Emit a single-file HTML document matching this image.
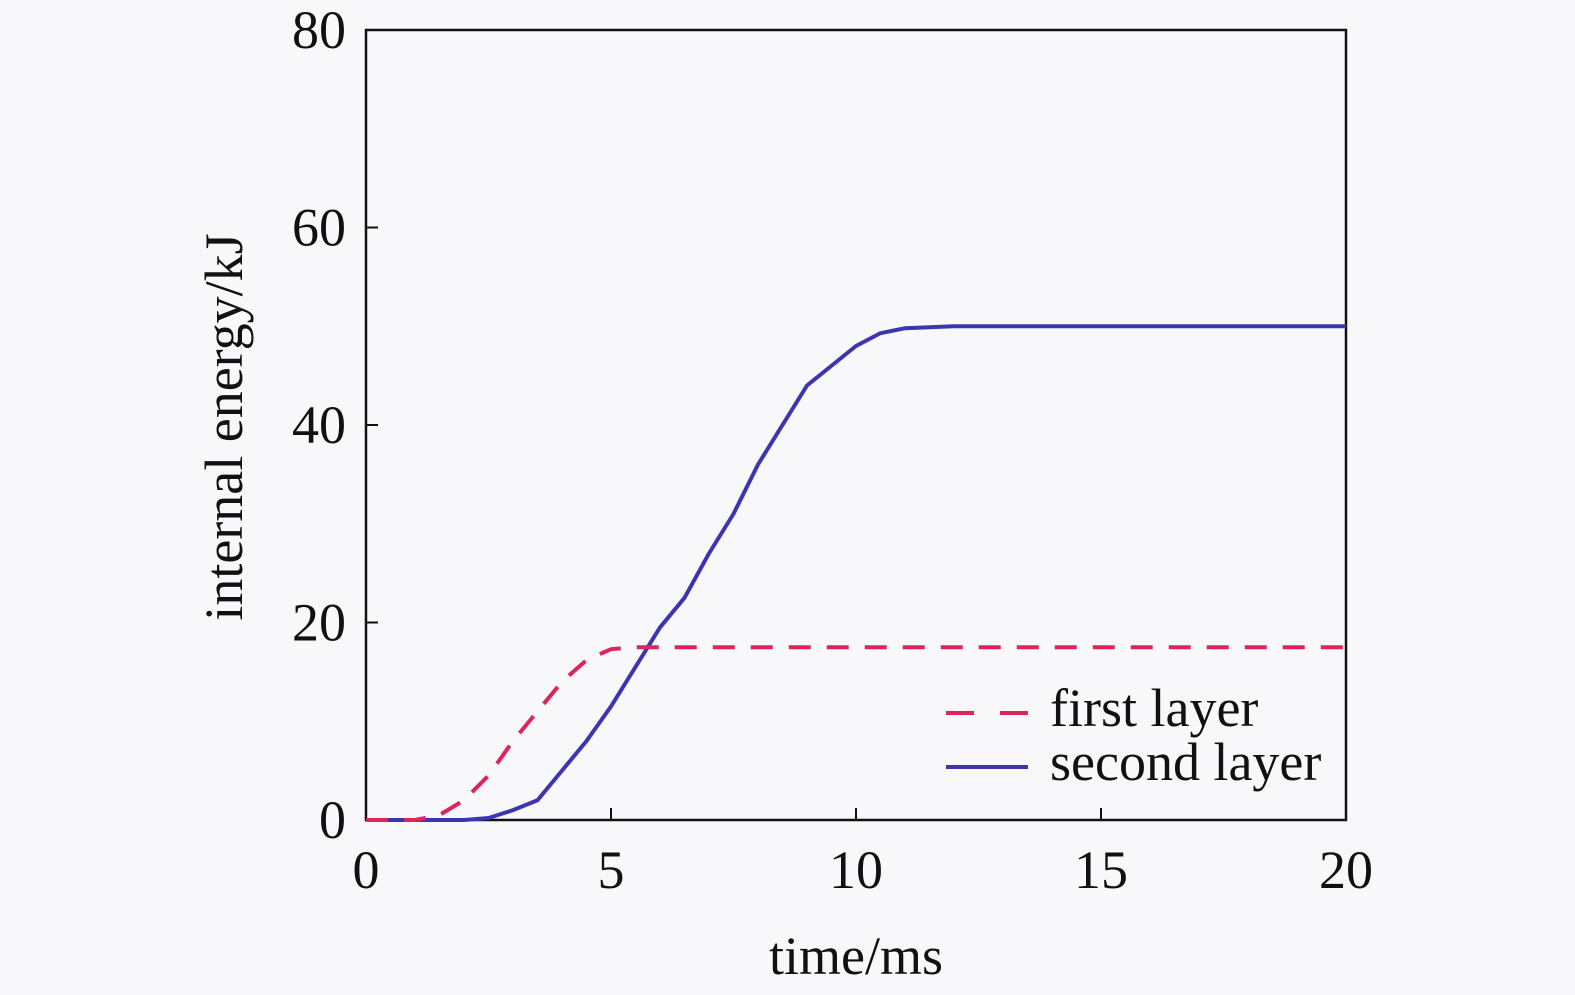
<!DOCTYPE html>
<html><head><meta charset="utf-8"><style>
body{margin:0;background:#f8f8fa;}
svg{display:block;font-family:"Liberation Serif",serif;}
</style></head><body>
<svg width="1575" height="995">
<rect x="0" y="0" width="1575" height="995" fill="#f8f8fa"/>
<g id="g"></g>
</svg>
<script>
const xTicks=[0,5,10,15,20];
const yTicks=[0,20,40,60,80];
const firstX=[0,1,1.5,2,2.5,3,3.5,4,4.5,5,5.5,20];
const firstY=[0,0,0.5,2,4.5,8,11,14,16.2,17.3,17.5,17.5];
const secondX=[0,2,2.5,3,3.5,4,4.5,5,5.5,6,6.5,7,7.5,8,8.5,9,9.5,10,10.5,11,12,20];
const secondY=[0,0,0.2,1,2,5,8,11.5,15.5,19.5,22.5,27,31,36,40,44,46,48,49.3,49.8,50,50];
const L=366,R=1346,T=30,B=820;
const sx=v=>L+(v-0)/20*(R-L), sy=v=>B-(v-0)/80*(B-T);
const g=document.getElementById('g'),NS='http://www.w3.org/2000/svg';
function mk(t,a,txt){const e=document.createElementNS(NS,t);for(const k in a)e.setAttribute(k,a[k]);if(txt!=null)e.textContent=txt;g.appendChild(e);return e;}
let e;
e=mk('rect',{x:L,y:T,width:R-L,height:B-T,fill:'none',stroke:'#111','stroke-width':2.5});


xTicks.forEach(v=>{
 e=mk('line',{x1:sx(v),x2:sx(v),y1:B,y2:B-12,stroke:'#111','stroke-width':2});
 
 
 e=mk('text',{x:sx(v),y:888,'text-anchor':'middle','font-size':54,fill:'#111'},v);
 
 
});
yTicks.forEach(v=>{
 e=mk('line',{x1:L,x2:L+12,y1:sy(v),y2:sy(v),stroke:'#111','stroke-width':2});
 
 
 e=mk('text',{x:346,y:sy(v)+18,'text-anchor':'end','font-size':54,fill:'#111'},v);
 
 
});
e=mk('text',{x:856,y:974,'text-anchor':'middle','font-size':54,fill:'#111'},'time/ms');


e=mk('text',{x:0,y:0,'text-anchor':'middle','font-size':54,fill:'#111',transform:'translate(242,427) rotate(-90)'},'internal energy/kJ');


function pts(xs,ys){return xs.map((x,i)=>sx(x)+','+sy(ys[i])).join(' ');}
e=mk('polyline',{points:pts(secondX,secondY),fill:'none',stroke:'#3d35b0','stroke-width':4,'stroke-linejoin':'round'});


e=mk('polyline',{points:pts(firstX,firstY),fill:'none',stroke:'#e0245a','stroke-width':4,'stroke-dasharray':'22 16'});


e=mk('line',{x1:946,x2:1028,y1:713,y2:713,stroke:'#e0245a','stroke-width':4,'stroke-dasharray':'28 26'});


e=mk('text',{x:1050,y:726,'font-size':54,fill:'#111'},'first layer');


e=mk('line',{x1:946,x2:1028,y1:767,y2:767,stroke:'#3d35b0','stroke-width':4});


e=mk('text',{x:1050,y:780,'font-size':54,fill:'#111'},'second layer');


</script>
</body></html>
